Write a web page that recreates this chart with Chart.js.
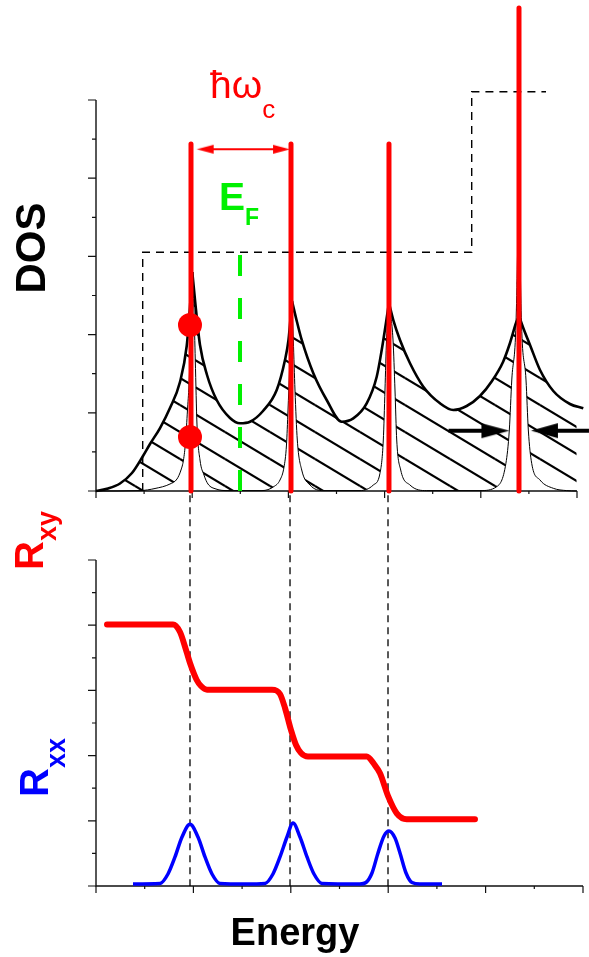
<!DOCTYPE html>
<html>
<head>
<meta charset="utf-8">
<script src="https://cdn.jsdelivr.net/npm/chart.js"></script>
<style>
  html, body { margin: 0; padding: 0; background: #fff; }
  #wrap { position: relative; width: 589px; height: 957px; overflow: hidden; }
  canvas { position: absolute; left: 0; }
  #dosChart { top: 0; }
  #resChart { top: 490px; }
</style>
</head>
<body>
<div id="wrap">
  <canvas id="dosChart" width="589" height="510"></canvas>
  <canvas id="resChart" width="589" height="467"></canvas>
</div>
<script>
// Landau levels: DOS (top) and Rxy / Rxx vs energy (bottom)
// both panels use plain axis units 0..10 on x and y

// ---- top panel data ----
const broadLeft = [[0, 0], [0.249, 0.064], [0.499, 0.192], [0.748, 0.46], [0.977, 0.895], [1.123, 1.202],
  [1.331, 1.611], [1.538, 2.123], [1.746, 2.788], [1.886, 3.708], [1.954, 4.706], [2.002, 5.601]];
const broadArc1 = [[2.002, 5.601], [2.058, 4.885], [2.162, 3.734], [2.308, 2.967], [2.509, 2.327], [2.786, 1.867],
  [2.994, 1.731], [3.202, 1.772], [3.472, 2.046], [3.757, 2.583], [3.929, 3.35], [4.002, 3.862], [4.075, 4.859]];
const broadArc2 = [[4.075, 4.859], [4.179, 4.322], [4.277, 3.862], [4.518, 3.01], [4.796, 2.327], [5.108, 1.772],
  [5.349, 1.859], [5.628, 2.243], [5.836, 2.923], [5.94, 3.606], [6.091, 4.808]];
const broadArc3 = [[6.091, 4.808], [6.181, 4.373], [6.32, 3.862], [6.528, 3.266], [6.805, 2.668], [7.152, 2.243],
  [7.428, 2.072], [7.707, 2.174], [7.983, 2.43], [8.233, 2.813], [8.462, 3.299], [8.607, 3.785], [8.732, 4.297], [8.794, 4.476]];
const broadRight = [[8.794, 4.476], [8.883, 4.169], [9.023, 3.734], [9.231, 3.095], [9.507, 2.558], [9.854, 2.225], [10.131, 2.115]];

const sharpLeft = [[0, 0], [0.915, 0.01], [1.227, 0.064], [1.538, 0.179], [1.684, 0.307], [1.767, 0.537],
  [1.819, 0.793], [1.861, 1.253], [1.902, 2.072], [1.933, 2.711], [1.969, 3.99], [2.002, 5.601]];
const sharpArc1 = [[2.002, 5.601], [2.037, 4.629], [2.064, 3.35], [2.1, 1.688], [2.162, 0.793], [2.245, 0.409],
  [2.328, 0.179], [2.495, 0.051], [2.744, 0.01], [3.451, 0.01], [3.701, 0.115], [3.825, 0.281], [3.909, 0.614],
  [3.96, 1.176], [3.992, 2.072], [4.023, 3.095], [4.054, 4.373], [4.075, 4.859]];
const sharpArc2 = [[4.075, 4.859], [4.102, 3.862], [4.137, 2.583], [4.185, 1.304], [4.277, 0.537], [4.449, 0.153],
  [4.719, 0.01], [5.489, 0.01], [5.765, 0.153], [5.904, 0.453], [5.973, 1.304], [6.008, 2.583], [6.04, 3.862], [6.091, 4.808]];
const sharpArc3 = [[6.091, 4.808], [6.175, 3.862], [6.216, 2.583], [6.252, 1.304], [6.335, 0.537], [6.528, 0.153],
  [6.875, 0.01], [7.983, 0.01], [8.331, 0.11], [8.522, 0.708], [8.593, 1.56], [8.644, 2.839], [8.732, 4.297], [8.79, 7.826]];
const sharpRight = [[8.79, 7.826], [8.846, 4.297], [8.94, 2.839], [8.988, 1.56], [9.058, 0.708], [9.231, 0.281],
  [9.507, 0.069], [9.786, 0.01], [9.99, 0]];

const levelEnergies = [1.975, 4.054, 6.091, 8.794];
const levelTops = [8.875, 8.875, 8.875, 12.353];
const fermiLine = [[2.994, 6.036], [2.994, 0]];
const bulkStep = [[0.971, 0], [0.971, 6.105], [7.811, 6.105], [7.811, 10.212], [9.356, 10.212]];
const occupiedDots = [[1.954, 4.246], [1.954, 1.381]];
const cyclotronArrow = [[2.426, 8.739], [3.701, 8.739]];
const widthArrowLeft = [[7.33, 1.542], [8.033, 1.542]];
const widthArrowRight = [[10.249, 1.542], [9.584, 1.542]];

// ---- bottom panel data ----
const rxyCurve = [[0.226, 8.021], [1.581, 8.021], [1.725, 7.791], [1.828, 7.34], [1.93, 6.84], [2.068, 6.319],
  [2.156, 6.135], [2.279, 6.02], [3.614, 6.02], [3.778, 5.89], [3.881, 5.46], [4.004, 4.785], [4.107, 4.325],
  [4.209, 4.08], [4.353, 3.972], [5.559, 3.972], [5.709, 3.742], [5.832, 3.457], [6.002, 2.739], [6.175, 2.23],
  [6.38, 2.05], [7.782, 2.05]];
const rxxCurve = [[0.76, 0.061], [1.314, 0.077], [1.478, 0.368], [1.622, 0.89], [1.766, 1.503], [1.93, 1.893],
  [2.094, 1.503], [2.238, 0.89], [2.382, 0.368], [2.546, 0.077], [3.06, 0.061], [3.47, 0.077], [3.634, 0.368],
  [3.778, 0.89], [3.922, 1.503], [4.045, 1.933], [4.189, 1.503], [4.333, 0.89], [4.476, 0.368], [4.641, 0.077],
  [5.421, 0.061], [5.544, 0.107], [5.667, 0.399], [5.791, 1.012], [5.914, 1.534], [6.016, 1.687], [6.14, 1.472],
  [6.242, 1.012], [6.366, 0.399], [6.489, 0.107], [6.653, 0.061], [7.105, 0.061]];
const plateauGuides = [1.93, 3.984, 5.996];
const guideTop = 11.99;

const axisTicks = [0, 1, 2, 3, 4, 5, 6, 7, 8, 9, 10];

const FONT = '"Liberation Sans", Arial, Helvetica, sans-serif';
const RED = "#ff0000";
const BLUE = "#0000ff";
const GREEN = "#00f000";

// pixel box of each axis frame inside its canvas
const topBox = { left: 96, right: 577, top: 100, bottom: 491, width: 589, height: 510 };
const botBox = { left: 96, right: 583, top: 70, bottom: 396, width: 589, height: 467 };

function pts(arr) {
  return arr.map(([x, y]) => ({ x: x, y: y }));
}

function unitScales(box) {
  const ux = (box.right - box.left) / 10;
  const uy = (box.bottom - box.top) / 10;
  return {
    x: { type: "linear", display: false, min: -box.left / ux, max: 10 + (box.width - box.right) / ux },
    y: { type: "linear", display: false, min: -(box.height - box.bottom) / uy, max: 10 + box.top / uy },
  };
}

function hatchPattern() {
  const w = 45, h = 27;
  const c = document.createElement("canvas");
  c.width = w;
  c.height = h;
  const g = c.getContext("2d");
  g.strokeStyle = "#000";
  g.lineWidth = 2.2;
  [[0, 0], [-w, 0], [w, 0], [0, -h], [0, h]].forEach(([dx, dy]) => {
    g.beginPath();
    g.moveTo(dx, dy);
    g.lineTo(dx + w, dy + h);
    g.stroke();
  });
  return g.createPattern(c, "repeat");
}

// arrow head drawn with its base on the canvas centre, tip to the right
function arrowHead(len, half, color) {
  const c = document.createElement("canvas");
  c.width = len * 2 + 2;
  c.height = half * 2 + 2;
  const g = c.getContext("2d");
  const cx = c.width / 2, cy = c.height / 2;
  g.fillStyle = color;
  g.beginPath();
  g.moveTo(cx + len, cy);
  g.lineTo(cx - 1, cy - half);
  g.lineTo(cx - 1, cy + half);
  g.closePath();
  g.fill();
  return c;
}

function lineSet(points, style) {
  return Object.assign({
    data: pts(points),
    borderColor: "#000",
    borderWidth: 1,
    pointRadius: 0,
    tension: 0,
    fill: false,
  }, style);
}

function arrowSet(points, head, color, width, bothEnds) {
  const last = points.length - 1;
  const dirLast = points[last][0] < points[last - 1][0] ? 180 : 0;
  return lineSet(points, {
    borderColor: color,
    borderWidth: width,
    pointStyle: head,
    pointRadius: (c) => (c.dataIndex === last || (bothEnds && c.dataIndex === 0) ? 1 : 0),
    pointRotation: (c) => (c.dataIndex === last ? dirLast : dirLast + 180),
    order: 1,
  });
}

// axis frame with major/minor ticks, placed through the chart scales
const sketchAxes = {
  id: "sketchAxes",
  beforeDatasetsDraw(chart) {
    const { ctx } = chart;
    const x = chart.scales.x, y = chart.scales.y;
    const x0 = x.getPixelForValue(0), x1 = x.getPixelForValue(10);
    const y0 = y.getPixelForValue(0), y1 = y.getPixelForValue(10);
    ctx.save();
    ctx.strokeStyle = "#111";
    ctx.lineWidth = 1.4;
    ctx.beginPath();
    ctx.moveTo(x0, y1);
    ctx.lineTo(x0, y0);
    ctx.lineTo(x1, y0);
    ctx.stroke();
    ctx.lineWidth = 1.2;
    ctx.beginPath();
    axisTicks.forEach((v) => {
      const len = v % 2 === 0 ? 8 : 4;
      const px = x.getPixelForValue(v);
      ctx.moveTo(px, y0);
      ctx.lineTo(px, y0 + len - 1);
      const py = y.getPixelForValue(v);
      ctx.moveTo(x0, py);
      ctx.lineTo(x0 - len, py);
    });
    ctx.stroke();
    ctx.restore();
  },
};

// labels with subscripts, optionally rotated
const sketchText = {
  id: "sketchText",
  afterDraw(chart, args, opts) {
    const ctx = chart.ctx;
    (opts.items || []).forEach((item) => {
      ctx.save();
      ctx.translate(item.x, item.y);
      if (item.rotate) ctx.rotate((item.rotate * Math.PI) / 180);
      ctx.fillStyle = item.color;
      ctx.textAlign = "left";
      ctx.textBaseline = "alphabetic";
      let total = 0;
      item.parts.forEach((p) => {
        ctx.font = p.font;
        total += ctx.measureText(p.text).width;
      });
      let cx = item.center ? -total / 2 : 0;
      item.parts.forEach((p) => {
        ctx.font = p.font;
        ctx.fillText(p.text, cx, p.dy || 0);
        cx += ctx.measureText(p.text).width;
      });
      ctx.restore();
    });
  },
};

const baseOptions = {
  responsive: false,
  animation: false,
  events: [],
  layout: { autoPadding: false, padding: 0 },
  elements: { point: { radius: 0, hoverRadius: 0 } },
};

// ---- top chart ----
const hatch = hatchPattern();
const broadArcs = [broadLeft, broadArc1, broadArc2, broadArc3, broadRight];
const sharpArcs = [sharpLeft, sharpArc1, sharpArc2, sharpArc3, sharpRight];

const dosSets = [];
broadArcs.forEach((arc, i) => {
  dosSets.push(lineSet(arc, {
    borderWidth: 2.6,
    cubicInterpolationMode: "monotone",
    fill: { target: broadArcs.length + i, above: hatch, below: hatch },
    backgroundColor: hatch,
    order: 7,
  }));
});
sharpArcs.forEach((arc) => {
  dosSets.push(lineSet(arc, { borderWidth: 1, cubicInterpolationMode: "monotone", order: 8 }));
});
dosSets.push(lineSet(bulkStep, { borderWidth: 1.4, borderDash: [8, 6], order: 9 }));
dosSets.push(lineSet(fermiLine, { borderColor: GREEN, borderWidth: 4, borderDash: [21, 22], order: 6 }));
levelEnergies.forEach((e, i) => {
  dosSets.push(lineSet([[e, 0], [e, levelTops[i]]], {
    borderColor: RED, borderWidth: 5, borderCapStyle: "round", order: 5,
  }));
});
dosSets.push(lineSet(occupiedDots, {
  showLine: false, pointRadius: 12, pointBackgroundColor: RED, pointBorderColor: RED, pointBorderWidth: 0, order: 4,
}));
dosSets.push(arrowSet(cyclotronArrow, arrowHead(16, 4.5, RED), RED, 2, true));
dosSets.push(arrowSet(widthArrowLeft, arrowHead(27, 7.5, "#000"), "#000", 4, false));
dosSets.push(arrowSet(widthArrowRight, arrowHead(26, 7.5, "#000"), "#000", 4, false));

new Chart(document.getElementById("dosChart"), {
  type: "line",
  data: { datasets: dosSets },
  options: {
    ...baseOptions,
    scales: unitScales(topBox),
    plugins: {
      legend: { display: false },
      tooltip: { enabled: false },
      sketchText: {
        items: [
          { x: 45, y: 248, rotate: -90, center: true, color: "#000",
            parts: [{ text: "DOS", font: `bold 42px ${FONT}` }] },
          { x: 210, y: 98, color: RED,
            parts: [{ text: "\u0127ω", font: `39px ${FONT}` }, { text: "c", font: `26px ${FONT}`, dy: 20 }] },
          { x: 219, y: 210, color: GREEN,
            parts: [{ text: "E", font: `bold 39px ${FONT}` }, { text: "F", font: `bold 23px ${FONT}`, dy: 15 }] },
        ],
      },
    },
  },
  plugins: [sketchAxes, sketchText],
});

// ---- bottom chart ----
const resSets = [];
resSets.push(lineSet(rxyCurve, {
  borderColor: RED, borderWidth: 6, borderCapStyle: "round", cubicInterpolationMode: "monotone", order: 1,
}));
resSets.push(lineSet(rxxCurve, {
  borderColor: BLUE, borderWidth: 3.5, cubicInterpolationMode: "monotone", order: 2,
}));
plateauGuides.forEach((e) => {
  resSets.push(lineSet([[e, guideTop], [e, 0]], { borderWidth: 1.3, borderDash: [7, 5], order: 3 }));
});

new Chart(document.getElementById("resChart"), {
  type: "line",
  data: { datasets: resSets },
  options: {
    ...baseOptions,
    scales: unitScales(botBox),
    plugins: {
      legend: { display: false },
      tooltip: { enabled: false },
      sketchText: {
        items: [
          { x: 43, y: 80, rotate: -90, color: RED,
            parts: [{ text: "R", font: `bold 40px ${FONT}` }, { text: "xy", font: `bold 27px ${FONT}`, dy: 13 }] },
          { x: 48, y: 307, rotate: -90, color: BLUE,
            parts: [{ text: "R", font: `bold 40px ${FONT}` }, { text: "xx", font: `bold 27px ${FONT}`, dy: 17 }] },
          { x: 295, y: 455, center: true, color: "#000",
            parts: [{ text: "Energy", font: `bold 38px ${FONT}` }] },
        ],
      },
    },
  },
  plugins: [sketchAxes, sketchText],
});
</script>
</body>
</html>
